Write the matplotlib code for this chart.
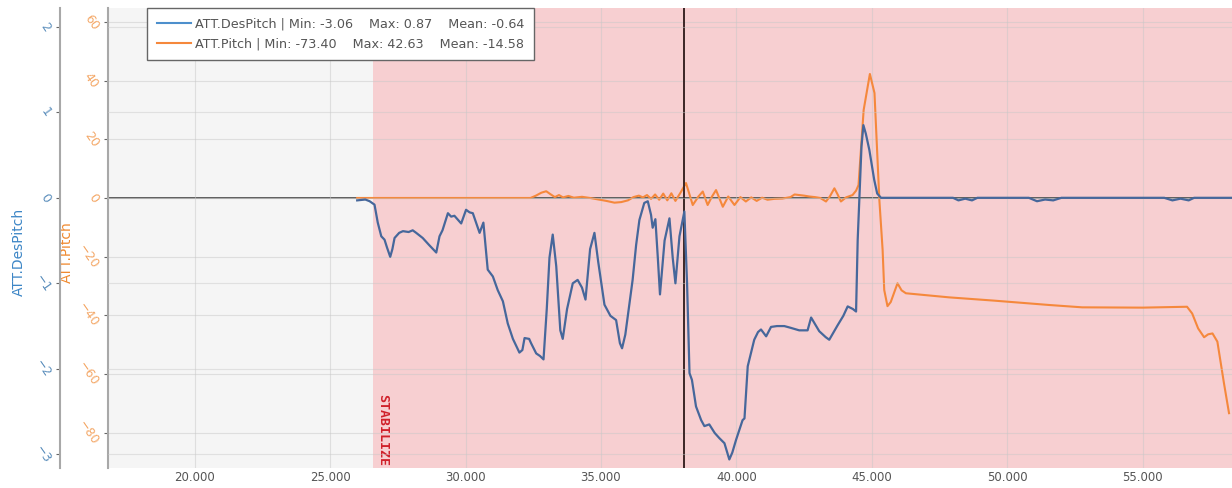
import matplotlib
matplotlib.use("Agg")
import matplotlib.pyplot as plt
import matplotlib.transforms as mtransforms
from matplotlib.lines import Line2D
from matplotlib.ticker import FormatStrFormatter

# ---------------- data ----------------
des_x = [26.00, 26.30, 26.46, 26.64, 26.76, 26.89, 27.01, 27.10, 27.22, 27.30, 27.38, 27.55,
         27.69, 27.90, 28.05, 28.18, 28.42, 28.65, 28.92, 29.04, 29.15, 29.35, 29.47, 29.59,
         29.70, 29.84, 30.02, 30.15, 30.27, 30.40, 30.52, 30.66, 30.82, 31.01, 31.19, 31.38,
         31.56, 31.75, 31.99, 32.10, 32.18, 32.35, 32.42, 32.61, 32.75, 32.88, 33.00, 33.10,
         33.22, 33.35, 33.50, 33.59, 33.75, 33.96, 34.14, 34.30, 34.43, 34.60, 34.76, 34.90,
         35.13, 35.35, 35.56, 35.70, 35.78, 35.90, 36.17, 36.30, 36.42, 36.60, 36.73, 36.85,
         36.91, 37.01, 37.10, 37.18, 37.35, 37.53, 37.65, 37.75, 37.90, 38.08, 38.18, 38.27,
         38.36, 38.51, 38.70, 38.82, 39.00, 39.20, 39.37, 39.56, 39.74, 39.85, 39.99, 40.23,
         40.30, 40.42, 40.66, 40.80, 40.91, 41.10, 41.28, 41.50, 41.77, 42.00, 42.32, 42.63,
         42.76, 43.06, 43.30, 43.43, 43.74, 43.95, 44.11, 44.30, 44.42, 44.48, 44.54, 44.62,
         44.69, 44.78, 44.91, 45.09, 45.20, 45.34, 48.00, 48.20, 48.45, 48.70, 48.90, 50.80,
         51.10, 51.40, 51.70, 52.00, 55.80, 56.10, 56.40, 56.70, 56.90, 58.30]
des_y = [-0.03, -0.02, -0.04, -0.08, -0.29, -0.45, -0.49, -0.58, -0.69, -0.60, -0.47, -0.41,
         -0.39, -0.40, -0.38, -0.41, -0.47, -0.55, -0.64, -0.45, -0.38, -0.18, -0.22, -0.21,
         -0.25, -0.30, -0.14, -0.17, -0.18, -0.30, -0.41, -0.29, -0.84, -0.92, -1.08, -1.21,
         -1.47, -1.65, -1.81, -1.78, -1.64, -1.65, -1.70, -1.82, -1.85, -1.89, -1.30, -0.70,
         -0.43, -0.80, -1.55, -1.65, -1.30, -1.00, -0.96, -1.05, -1.19, -0.60, -0.41, -0.75,
         -1.25, -1.38, -1.43, -1.70, -1.76, -1.60, -0.96, -0.55, -0.26, -0.06, -0.04, -0.20,
         -0.35, -0.25, -0.70, -1.13, -0.50, -0.24, -0.70, -1.00, -0.45, -0.16, -1.00, -2.05,
         -2.13, -2.44, -2.60, -2.67, -2.65, -2.75, -2.81, -2.87, -3.06, -2.98, -2.83, -2.60,
         -2.58, -1.97, -1.66, -1.57, -1.54, -1.62, -1.51, -1.50, -1.50, -1.52, -1.55, -1.55,
         -1.40, -1.56, -1.63, -1.66, -1.49, -1.38, -1.27, -1.30, -1.33, -0.49, -0.02, 0.60,
         0.85, 0.75, 0.56, 0.21, 0.05, 0.00, 0.00, -0.03, -0.01, -0.03, 0.00, 0.00,
         -0.04, -0.02, -0.03, 0.00, 0.00, -0.03, -0.01, -0.03, 0.00, 0.00]

pitch_x = [26.00, 32.40, 32.60, 32.80, 32.98, 33.15, 33.30, 33.45, 33.60, 33.80, 34.00, 34.30,
           34.60, 34.90, 35.20, 35.50, 35.75, 36.00, 36.20, 36.40, 36.55, 36.70, 36.85, 37.00,
           37.15, 37.30, 37.45, 37.60, 37.75, 37.95, 38.14, 38.39, 38.60, 38.76, 38.94, 39.10,
           39.25, 39.50, 39.70, 39.93, 40.15, 40.35, 40.55, 40.75, 40.95, 41.15, 41.40, 41.70,
           42.00, 42.15, 42.32, 42.50, 42.70, 42.90, 43.10, 43.31, 43.45, 43.62, 43.75, 43.86,
           44.05, 44.29, 44.42, 44.51, 44.70, 44.93, 45.10, 45.28, 45.40, 45.46, 45.58, 45.70,
           45.95, 46.10, 46.26, 47.86, 49.50, 51.55, 52.77, 55.00, 56.64, 56.83, 57.05, 57.27,
           57.42, 57.58, 57.76, 58.00, 58.19]
pitch_y = [0.0, 0.0, 0.8, 1.8, 2.3, 1.2, 0.3, 1.0, 0.2, 0.7, 0.1, 0.4,
           0.0, -0.5, -1.0, -1.6, -1.4, -0.8, 0.3, 0.8, 0.2, 1.0, -0.3, 1.2,
           -0.6, 1.5, -0.8, 1.6, -1.0, 2.0, 5.1, -2.4, 0.5, 2.2, -2.4, 0.5,
           2.7, -3.0, 0.5, -2.4, 0.3, -1.2, 0.2, -1.0, 0.1, -0.6, -0.3, -0.2,
           0.3, 1.2, 1.0, 0.8, 0.5, 0.3, 0.0, -1.2, 0.5, 3.3, 1.0, -1.2,
           0.2, 1.0, 2.5, 4.4, 30.0, 42.3, 35.8, -0.7, -17.7, -31.4, -36.9, -35.5,
           -29.1, -31.5, -32.5, -33.9, -35.0, -36.5, -37.3, -37.4, -37.1, -39.4, -44.5, -47.5,
           -46.5, -46.2, -49.0, -63.0, -73.4]

mode_name = "STABILIZE"
mode_start = 26.57
cursor_x = 38.08
x_ticks = [20, 25, 30, 35, 40, 45, 50, 55]
pitch_ticks = [-80, -60, -40, -20, 0, 20, 40, 60]
des_ticks = [-3, -2, -1, 0, 1, 2]
legend_labels = ["ATT.DesPitch | Min: -3.06    Max: 0.87    Mean: -0.64",
                 "ATT.Pitch | Min: -73.40    Max: 42.63    Mean: -14.58"]

# ---------------- style ----------------
C_DES = "#46679b"
C_DES_LEG = "#4d8fcc"
C_PITCH = "#f5883c"
C_PINK = "#f7cfd1"
C_GRAY_BG = "#f5f5f5"

W, H = 1232, 488
fig = plt.figure(figsize=(W / 100, H / 100), dpi=100)
ax = fig.add_axes([108 / W, 20 / H, 1124 / W, 460 / H])
ax.set_facecolor(C_GRAY_BG)
ax.set_xlim(16.8, 58.3)
ax.set_ylim(-92.1, 64.8)

ax2 = ax.twinx()
ax2.set_ylim(-3.16, 2.22)

# background regions
ax.axvspan(mode_start, 60, color=C_PINK, zorder=0, lw=0)

# grids
ax.set_xticks(x_ticks)
ax.set_yticks(pitch_ticks)
ax.grid(True, color="#c8c8c8", lw=0.8, alpha=0.5, zorder=0.5)
ax2.set_yticks(des_ticks)
ax2.grid(True, axis="y", color="#c8c8c8", lw=0.8, alpha=0.45)
ax2.grid(False, axis="x")

# zero line & cursor
ax.axhline(0, color="#5a5a5a", lw=1.4, zorder=1)
ax.axvline(cursor_x, color="#3b2626", lw=1.4, zorder=5)

# series
ax.plot(pitch_x, pitch_y, color=C_PITCH, lw=1.5, zorder=3)
ax2.plot(des_x, des_y, color=C_DES, lw=1.6, zorder=3)

# spines
for a in (ax, ax2):
    for s in ("top", "right", "bottom"):
        a.spines[s].set_visible(False)
ax.spines["left"].set_color("#a8a8a8")
ax.spines["left"].set_linewidth(1.5)
ax2.spines["left"].set_visible(True)
ax2.spines["left"].set_position(("axes", -48 / 1124))
ax2.spines["left"].set_color("#a8a8a8")
ax2.spines["left"].set_linewidth(1.5)
ax2.yaxis.set_ticks_position("left")
ax2.yaxis.set_label_position("left")

# ticks
ax.xaxis.set_major_formatter(FormatStrFormatter("%.3f"))
ax.tick_params(axis="x", length=0, labelsize=8.5, labelcolor="#555555", pad=2)
ax.tick_params(axis="y", length=3, color="#666666", labelsize=9, labelcolor="#f4a868", pad=2)
ax2.tick_params(axis="y", length=3, color="#666666", labelsize=9, labelcolor="#5e90bd", pad=2)
for lab in ax.get_yticklabels():
    lab.set_rotation(-55)
    lab.set_ha("right")
    lab.set_va("center")
for lab in ax2.get_yticklabels():
    lab.set_rotation(-55)
    lab.set_ha("right")
    lab.set_va("center")

# axis labels
ax.set_ylabel("ATT.Pitch", color="#f08a30", fontsize=10)
ax.yaxis.set_label_coords(-34 / 1124, 0.47)
ax2.set_ylabel("ATT.DesPitch", color="#3d86c6", fontsize=10)
ax2.yaxis.set_label_coords(-82 / 1124, 0.47)

# mode label
trans = mtransforms.blended_transform_factory(ax.transData, ax.transAxes)
ax.text(mode_start + 0.12, 0.005, mode_name, transform=trans, rotation=-90,
        ha="left", va="bottom", color="#d0202a", fontsize=9.5, fontweight="bold",
        family="DejaVu Sans Mono", zorder=6)

# legend
handles = [Line2D([], [], color=C_DES_LEG, lw=1.5), Line2D([], [], color=C_PITCH, lw=1.5)]
leg = ax2.legend(handles, legend_labels, loc="upper left",
                 bbox_to_anchor=(39 / 1124, 1.0), fontsize=9.2, frameon=True,
                 fancybox=False, edgecolor="#666666", framealpha=1.0,
                 handlelength=2.7, handletextpad=0.3, borderpad=0.75, labelspacing=0.55,
                 borderaxespad=0)
leg.get_frame().set_linewidth(1.0)
for t in leg.get_texts():
    t.set_color("#555555")
leg.set_zorder(10)

fig.savefig("out.png", dpi=100)
